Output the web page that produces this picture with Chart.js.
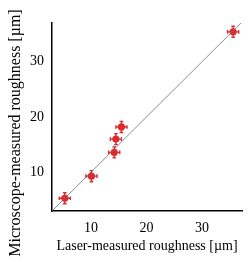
<!DOCTYPE html>
<html>
<head>
<meta charset="utf-8">
<script src="https://cdn.jsdelivr.net/npm/chart.js@4"></script>
<style>
  html, body { margin: 0; padding: 0; background: #fff; }
  #wrap { width: 251px; height: 262px; }
</style>
</head>
<body>
<div id="wrap"><canvas id="chart" width="251" height="262"></canvas></div>
<script>
// laser vs microscope roughness, in µm
const laserValues = [5.3, 10.1, 14.2, 14.5, 15.5, 35.6];
const microValues = [5.3, 9.3, 13.6, 16.0, 18.2, 35.4];
const laserErr = [1.0, 1.0, 1.0, 1.0, 1.0, 1.0];
const microErr = [1.0, 1.0, 1.0, 1.0, 1.0, 1.0];
const tickValues = [10, 20, 30];
const yTitle = "Microscope-measured roughness [µm]";
const xTitle = "Laser-measured roughness [µm]";
const axisMin = 3;
const axisMax = 37.2;

const red = "#dc2a2f";
const serif = "'Liberation Serif', 'Times New Roman', serif";

const points = laserValues.map((x, i) => ({ x, y: microValues[i] }));

// draws the x/y error bars from the data arrays via the chart's scales
const errorBars = {
    id: "errorBars",
    beforeDatasetsDraw(chart) {
        const { ctx, scales: { x, y } } = chart;
        const cap = 1.8;
        ctx.save();
        ctx.strokeStyle = red;
        ctx.lineWidth = 1.4;
        points.forEach((p, i) => {
            const px = x.getPixelForValue(p.x);
            const py = y.getPixelForValue(p.y);
            const x0 = x.getPixelForValue(p.x - laserErr[i]);
            const x1 = x.getPixelForValue(p.x + laserErr[i]);
            const y0 = y.getPixelForValue(p.y - microErr[i]);
            const y1 = y.getPixelForValue(p.y + microErr[i]);
            ctx.beginPath();
            ctx.moveTo(x0, py); ctx.lineTo(x1, py);
            ctx.moveTo(x0, py - cap); ctx.lineTo(x0, py + cap);
            ctx.moveTo(x1, py - cap); ctx.lineTo(x1, py + cap);
            ctx.moveTo(px, y0); ctx.lineTo(px, y1);
            ctx.moveTo(px - cap, y0); ctx.lineTo(px + cap, y0);
            ctx.moveTo(px - cap, y1); ctx.lineTo(px + cap, y1);
            ctx.stroke();
        });
        ctx.restore();
    }
};

// y title is a bit larger than the x title and centred on the whole figure
const yTitlePlugin = {
    id: "yTitle",
    afterDraw(chart) {
        const { ctx } = chart;
        ctx.save();
        ctx.translate(16, 133);
        ctx.rotate(-Math.PI / 2);
        ctx.font = "16px " + serif;
        ctx.fillStyle = "#000";
        ctx.textAlign = "center";
        ctx.textBaseline = "middle";
        ctx.fillText(yTitle, 0, 0);
        ctx.restore();
    }
};

const ctx = document.getElementById("chart").getContext("2d");

new Chart(ctx, {
    type: "scatter",
    data: {
        datasets: [
            {
                // 1:1 reference line
                type: "line",
                data: [{ x: axisMin, y: axisMin }, { x: axisMax, y: axisMax }],
                borderColor: "#6e6e6e",
                borderWidth: 0.8,
                pointRadius: 0,
                fill: false
            },
            {
                data: points,
                backgroundColor: red,
                borderColor: red,
                borderWidth: 0,
                pointRadius: 3.6,
                pointHoverRadius: 3.6
            }
        ]
    },
    options: {
        responsive: false,
        animation: false,
        layout: { padding: { top: 23, right: 9, left: 0, bottom: 0 } },
        plugins: { legend: { display: false }, tooltip: { enabled: false } },
        scales: {
            x: {
                type: "linear",
                min: axisMin,
                max: axisMax,
                afterBuildTicks: (s) => { s.ticks = tickValues.map(v => ({ value: v })); },
                afterFit: (s) => { s.height = 51; },
                grid: { display: false, drawOnChartArea: false, drawTicks: true, tickLength: 5, tickColor: "#000", tickWidth: 1.3 },
                border: { display: true, color: "#000", width: 1.5 },
                ticks: { color: "#000", padding: 4, font: { family: serif, size: 14 } },
                title: {
                    display: true,
                    text: xTitle,
                    color: "#000",
                    font: { family: serif, size: 14 },
                    padding: { top: 0, bottom: 7 }
                }
            },
            y: {
                type: "linear",
                min: axisMin,
                max: 37,
                afterBuildTicks: (s) => { s.ticks = tickValues.map(v => ({ value: v })); },
                afterFit: (s) => { s.width = 52; },
                grid: { display: false, drawOnChartArea: false, drawTicks: true, tickLength: 5, tickColor: "#000", tickWidth: 1.3 },
                border: { display: true, color: "#000", width: 1.5 },
                ticks: { color: "#000", padding: 3, font: { family: serif, size: 14 } },
                title: { display: false }
            }
        }
    },
    plugins: [errorBars, yTitlePlugin]
});
</script>
</body>
</html>
